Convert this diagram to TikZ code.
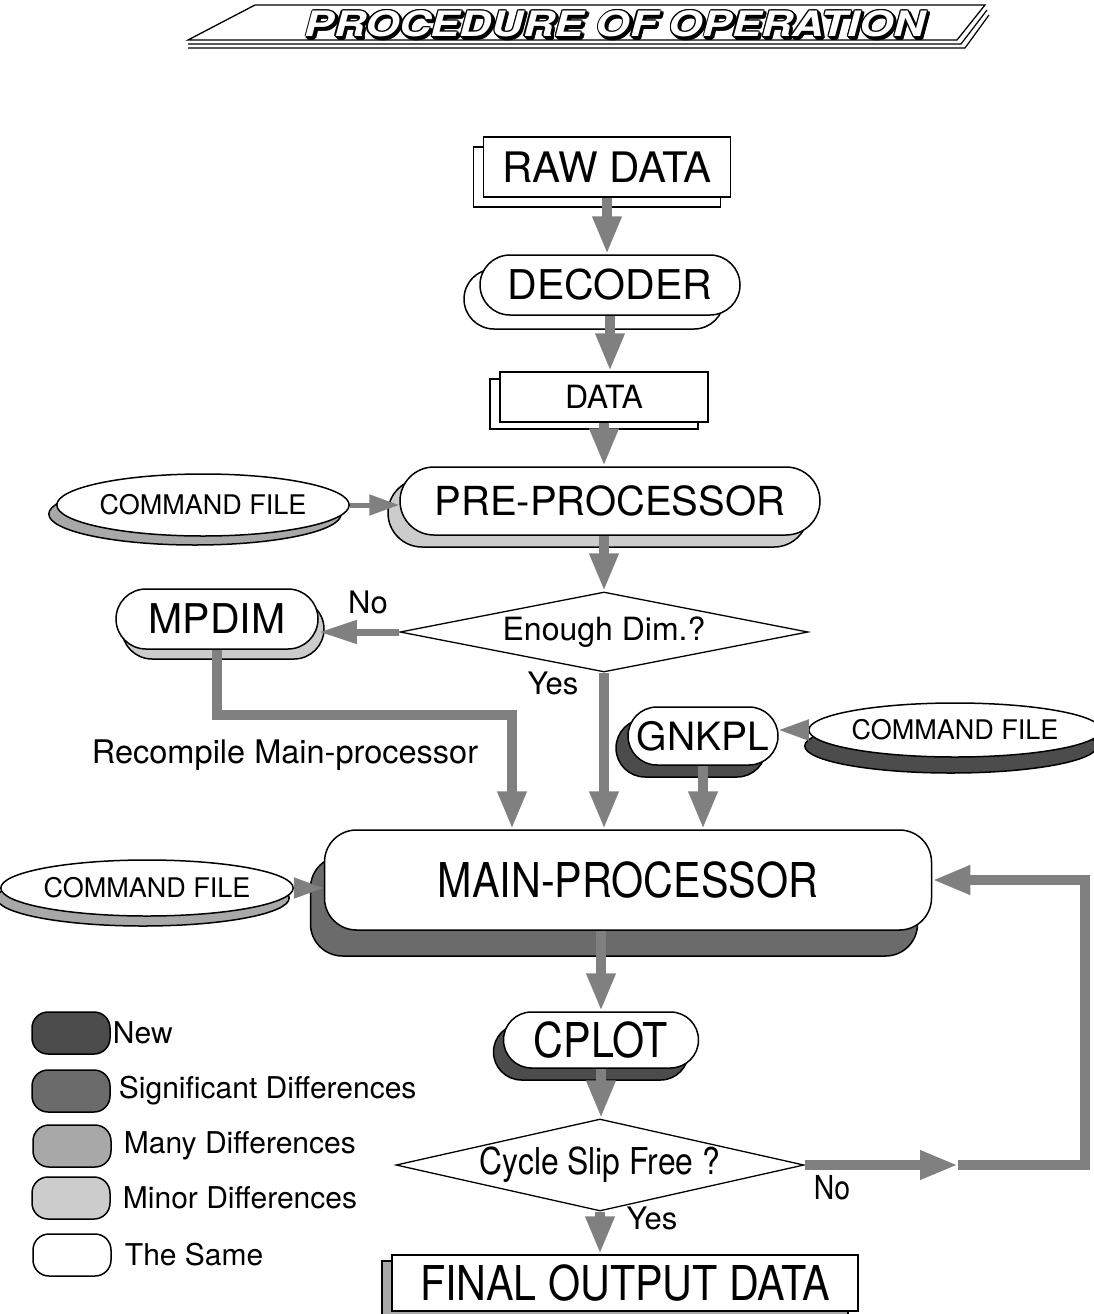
\documentclass[tikz,border=0pt]{standalone}
\usepackage{fontspec}
\setmainfont{TeX Gyre Heros}
\newfontfamily\condfont[FakeStretch=0.86]{TeX Gyre Heros}
\newfontfamily\bannerfont[FakeStretch=1.25]{TeX Gyre Heros}
\usepackage{tikz}
\usetikzlibrary{arrows.meta,shapes.geometric,shadows,positioning}

\definecolor{shnew}{gray}{0.3}
\definecolor{shsig}{gray}{0.42}
\definecolor{shmany}{gray}{0.66}
\definecolor{shminor}{gray}{0.8}
\definecolor{arrowgray}{gray}{0.5}

\tikzset{
  box/.style={draw, line width=1.5pt, fill=white, inner sep=0pt, align=center},
  pill/.style={box, rounded corners=#1},
  docbox/.style={box, rectangle},
  cmdfile/.style={box, ellipse, font=\fontsize{27}{29}\selectfont},
  decision/.style={box, diamond, line width=1.3pt},
  backing/.style n args={3}{copy shadow={fill=#1, draw=black, line width=1.5pt, shadow xshift=#2, shadow yshift=#3}},
  flowarrow/.style={draw=arrowgray, line width=10pt, -{Triangle[width=27pt,length=38pt]}},
  midarrow/.style={draw=arrowgray, line width=7pt, -{Triangle[width=22pt,length=38pt]}},
  thinarrow/.style={draw=arrowgray, line width=5pt, -{Triangle[width=20pt,length=30pt]}},
  lbl/.style={inner sep=0pt, font=\fontsize{31}{33}\selectfont},
  bannertext/.style={inner sep=0pt, font=\bannerfont\bfseries\itshape\fontsize{35}{37}\selectfont},
  legbox/.style={box, rounded corners=16pt, minimum width=78pt, minimum height=42pt},
  legtext/.style={inner sep=0pt, font=\fontsize{30}{32}\selectfont},
}

\begin{document}
\begin{tikzpicture}[x=1pt,y=1pt,yscale=-1,xscale=1]
\useasboundingbox (0,0) rectangle (1093,1314);

%Banner
\draw[line width=1.3pt] (255,5) -- (985,5) -- (957,40) -- (188,40) -- cycle;
\draw[line width=1.2pt] (188,44) -- (961,44) -- (987,10);
\draw[line width=1.2pt] (188,48) -- (965,48) -- (989,15);
\foreach \a in {0,45,...,315}
  \node[bannertext] at ([shift={(\a:1.4)}]617,26) {PROCEDURE OF OPERATION};
\foreach \a in {0,45,...,315}
  \node[bannertext] at ([shift={(\a:1.3)}]615,24) {PROCEDURE OF OPERATION};
\node[bannertext, text=white] (title) at (615,24) {PROCEDURE OF OPERATION};

%Flow nodes
\node[docbox, backing={white}{-10pt}{-10pt}, minimum width=247pt, minimum height=60pt, font=\fontsize{42}{44}\selectfont] (raw) at (607,167) {RAW DATA};
\node[pill=30pt, backing={white}{-16pt}{-14pt}, minimum width=260pt, minimum height=60pt, font=\fontsize{41}{43}\selectfont] (decoder) at (610,285) {DECODER};
\node[docbox, backing={white}{-10pt}{-7pt}, minimum width=208pt, minimum height=50pt, font=\fontsize{32}{34}\selectfont] (data) at (604,397) {DATA};
\node[pill=34pt, backing={shminor}{-12pt}{-12pt}, minimum width=420pt, minimum height=68pt, font=\fontsize{40}{42}\selectfont] (pre) at (610,501) {PRE-PROCESSOR};
\node[cmdfile, backing={shmany}{-8pt}{-9pt}, minimum width=263pt, minimum height=62pt] (cmda) at (203,505) {COMMAND FILE};
\node[decision, shape aspect=5, minimum width=408pt, minimum height=80pt, font=\fontsize{32}{34}\selectfont] (dim) at (604,632) {Enough Dim.?};
\node[pill=30pt, backing={shminor}{6pt}{-10pt}, minimum width=202pt, minimum height=60pt, font=\fontsize{41}{43}\selectfont] (mpdim) at (217,619) {MPDIM};
\node[pill=29pt, backing={shnew}{-12pt}{-12pt}, minimum width=150pt, minimum height=58pt, font=\fontsize{39}{41}\selectfont] (gnkpl) at (703,736) {GNKPL};
\node[cmdfile, backing={shnew}{-4pt}{-16pt}, minimum width=274pt, minimum height=54pt] (cmdb) at (955,730) {COMMAND FILE};
\node[box, rounded corners=32pt, backing={shsig}{-14pt}{-26pt}, minimum width=607pt, minimum height=100pt, font=\condfont\fontsize{48}{50}\selectfont] (main) at (628,880) {MAIN-PROCESSOR};
\node[cmdfile, backing={shmany}{-4pt}{-10pt}, minimum width=270pt, minimum height=56pt] (cmdc) at (147,888) {COMMAND FILE};
\node[pill=28pt, backing={shnew}{-10pt}{-12pt}, minimum width=195pt, minimum height=56pt, font=\condfont\fontsize{48}{50}\selectfont] (cplot) at (601,1040) {CPLOT};
\node[decision, shape aspect=4.4, minimum width=408pt, minimum height=92pt, font=\condfont\fontsize{37}{39}\selectfont] (slip) at (600,1165) {Cycle Slip Free ?};
\node[docbox, backing={shmany}{-10pt}{-6pt}, minimum width=466pt, minimum height=56pt, font=\condfont\fontsize{48}{50}\selectfont] (final) at (625,1283) {FINAL OUTPUT DATA};

% Text Node
\node[lbl] (noa) at (368,602) {No};
\node[lbl] (yesa) at (553,683) {Yes};
\node[lbl, font=\fontsize{32.5}{34}\selectfont] (recompile) at (285,755) {Recompile Main-processor};
\node[lbl, font=\condfont\fontsize{33}{35}\selectfont] (nob) at (832,1188) {No};
\node[lbl] (yesb) at (652,1218) {Yes};

%Connectors
\coordinate (recomp) at (512,715);
\coordinate (loopmid) at (958,1165);
\coordinate (loopcorner) at (1085,1165);
\draw[flowarrow] (raw.south) -- (raw.south |- decoder.north);
\draw[flowarrow] (decoder.south) -- (decoder.south |- data.north);
\draw[flowarrow] (data.south) -- (data.south |- pre.north);
\draw[flowarrow] (pre.south -| dim.north) -- (dim.north);
\draw[thinarrow] (cmda.east) -- (cmda.east -| pre.west);
\draw[midarrow] (dim.west) -- (dim.west -| mpdim.east);
\draw[flowarrow] (mpdim.south) |- (recomp) -- (recomp |- main.north);
\draw[flowarrow] (dim.south) -- (dim.south |- main.north);
\draw[thinarrow] (cmdb.west) -- (cmdb.west -| gnkpl.east);
\draw[flowarrow] (gnkpl.south) -- (gnkpl.south |- main.north);
\draw[thinarrow] (cmdc.east) -- (cmdc.east -| main.west);
\draw[flowarrow] (main.south -| cplot.north) -- (cplot.north);
\draw[flowarrow] (cplot.south) -- (cplot.south |- slip.north);
\draw[flowarrow] (slip.south) -- (slip.south |- final.north);
\draw[flowarrow] (slip.east) -- (loopmid);
\draw[flowarrow] (loopmid) -- (loopcorner) |- (main.east);

%Legend
\node[legbox, fill=shnew] (legnew) at (71,1033) {};
\node[legbox, fill=shsig] (legsig) at (71,1091) {};
\node[legbox, fill=shmany] (legmany) at (72,1146) {};
\node[legbox, fill=shminor] (legminor) at (71,1198) {};
\node[legbox] (legsame) at (72,1255) {};
\node[legtext, right=2pt of legnew] (legnewt) {New};
\node[legtext, right=8pt of legsig] (legsigt) {Significant Differences};
\node[legtext, right=12pt of legmany] (legmanyt) {Many Differences};
\node[legtext, right=12pt of legminor] (legminort) {Minor Differences};
\node[legtext, right=13pt of legsame] (legsamet) {The Same};

\end{tikzpicture}
\end{document}
